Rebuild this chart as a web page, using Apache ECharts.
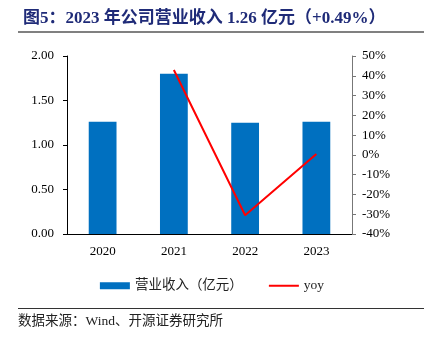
<!DOCTYPE html>
<html><head><meta charset="utf-8">
<script src="https://cdn.jsdelivr.net/npm/echarts@6/dist/echarts.min.js"></script>
<style>html,body{margin:0;padding:0;background:#fff}#c{width:424px;height:345px}</style>
</head><body><div id="c"></div>
<script>
var categories = ['2020', '2021', '2022', '2023'];
var revenue = [1.26, 1.80, 1.25, 1.26];
var yoy = [null, 42.9, -30.5, 0.49];
var leftTicks = [0, 2, 0.5];
var rightTicks = [-40, 50, 10];

var serif = '"Liberation Serif","Times New Roman","Noto Sans CJK SC",serif';
var chart = echarts.init(document.getElementById('c'));
chart.setOption({
  animation: false,
  backgroundColor: '#fff',
  title: {
    text: '图5：2023 年公司营业收入 1.26 亿元（+0.49%）',
    left: 18, top: 5,
    textStyle: {fontFamily: serif, fontSize: 17, fontWeight: 'bold', color: '#1F2B78'}
  },
  graphic: [
    {type: 'rect', shape: {x: 18, y: 31, width: 406, height: 2}, style: {fill: '#808080'}},
    {type: 'rect', shape: {x: 18, y: 308, width: 406, height: 1}, style: {fill: '#333'}},
    {type: 'text', left: 18, top: 315, style: {text: '数据来源：Wind、开源证券研究所', font: '13.5px ' + serif, fill: '#222'}}
  ],
  legend: {
    top: 274, left: 'center', itemGap: 26, itemWidth: 30, itemHeight: 7,
    textStyle: {fontFamily: serif, fontSize: 13.5, color: '#222'},
    data: [{name: '营业收入（亿元）', icon: 'rect'}, {name: 'yoy', icon: 'path://M0,0L30,0L30,2L0,2Z'}]
  },
  grid: {left: 67, right: 72, top: 56, bottom: 111},
  xAxis: {
    type: 'category', data: categories,
    axisLine: {lineStyle: {color: '#000'}},
    axisTick: {inside: true, length: 4, lineStyle: {color: '#000'}},
    axisLabel: {fontFamily: serif, fontSize: 13, color: '#000', margin: 11}
  },
  yAxis: [
    {type: 'value', min: leftTicks[0], max: leftTicks[1], interval: leftTicks[2],
     axisLine: {show: true, lineStyle: {color: '#000'}},
     axisTick: {show: true, length: 4, lineStyle: {color: '#000'}},
     splitLine: {show: false},
     axisLabel: {fontFamily: serif, fontSize: 13, color: '#000', margin: 13,
       formatter: function (v) { return v.toFixed(2); }}},
    {type: 'value', min: rightTicks[0], max: rightTicks[1], interval: rightTicks[2],
     axisLine: {show: true, lineStyle: {color: '#777'}},
     axisTick: {show: true, length: 4, lineStyle: {color: '#777'}},
     splitLine: {show: false},
     axisLabel: {fontFamily: serif, fontSize: 13, color: '#000', margin: 10,
       formatter: '{value}%'}}
  ],
  series: [
    {name: '营业收入（亿元）', type: 'bar', data: revenue, barWidth: '39%',
     itemStyle: {color: '#0070C0'}},
    {name: 'yoy', type: 'line', yAxisIndex: 1, data: yoy, symbol: 'none',
     lineStyle: {color: '#FF0000', width: 2}, itemStyle: {color: '#FF0000'}}
  ]
});
</script></body></html>
